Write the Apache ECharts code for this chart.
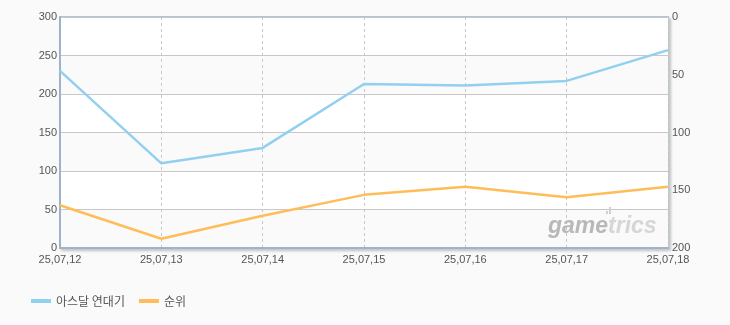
<!DOCTYPE html>
<html><head><meta charset="utf-8">
<script src="https://cdn.jsdelivr.net/npm/echarts@6/dist/echarts.min.js"></script>
<style>html,body{margin:0;padding:0;background:#fafafa;}#c{width:730px;height:325px;}</style>
</head><body><div id="c"></div>
<script>
const categories = ['25,07,12','25,07,13','25,07,14','25,07,15','25,07,16','25,07,17','25,07,18'];
const seriesNames = ['아스달 연대기','순위'];
const valueSeries = [230,110,130,213,211,217,257];
const rankSeries = [163,192,172,154,147,156,147];
const leftTicks = {min:0,max:300,interval:50};
const rightTicks = {min:0,max:200,interval:50};

const chart = echarts.init(document.getElementById('c'), null, {renderer:'canvas'});
const labelStyle = {color:'#555', fontSize:11, fontFamily:'Liberation Sans, Arial, sans-serif'};
chart.setOption({
  backgroundColor:'#fafafa',
  animation:false,
  grid:{left:60,right:62,top:17,bottom:77,show:true,backgroundColor:'#fff',borderColor:'#b2c4d8',borderWidth:2,
    shadowColor:'rgba(0,0,0,0.18)',shadowBlur:3,shadowOffsetX:2,shadowOffsetY:2},
  legend:{left:26,top:290,itemWidth:20,itemHeight:4,itemGap:14,icon:'rect',
    textStyle:{color:'#555',fontSize:12,fontFamily:'Noto Sans CJK KR, sans-serif'},
    data:seriesNames},
  xAxis:{type:'category',data:categories,boundaryGap:false,
    axisLine:{show:true,lineStyle:{color:'#9fb3c8',width:2}},axisTick:{show:false},
    axisLabel:Object.assign({margin:6},labelStyle),
    splitLine:{show:true,lineStyle:{color:'#c8c8c8',type:[3,3],width:1}}},
  yAxis:[
    {type:'value',min:leftTicks.min,max:leftTicks.max,interval:leftTicks.interval,
      axisLine:{show:true,lineStyle:{color:'#9fb3c8',width:2}},axisTick:{show:false},
      axisLabel:Object.assign({margin:3},labelStyle),
      splitLine:{show:true,lineStyle:{color:'#c8c8c8',width:1}},
      splitArea:{show:true,areaStyle:{color:['#fafafa','#ffffff']}}},
    {type:'value',inverse:true,min:rightTicks.min,max:rightTicks.max,interval:rightTicks.interval,position:'right',
      axisLine:{show:false},axisTick:{show:false},
      axisLabel:Object.assign({margin:4},labelStyle),
      splitLine:{show:false}}
  ],
  graphic:[
    {type:'text',left:548,top:215,z:1,
      style:{text:'{a|game}{b|trics}',rich:{
        a:{fill:'#b8b8b8',font:'italic bold 23px Liberation Sans, Arial, sans-serif'},
        b:{fill:'#d6d6d6',font:'italic bold 23px Liberation Sans, Arial, sans-serif'}}}},
    {type:'rect',left:606,top:211,z:1,shape:{width:2,height:3},style:{fill:'#d0d0d0'}},
    {type:'rect',left:609,top:207,z:1,shape:{width:2,height:7},style:{fill:'#d0d0d0'}}
  ],
  series:[
    {name:seriesNames[0],type:'line',data:valueSeries,yAxisIndex:0,showSymbol:false,symbol:'none',
      itemStyle:{color:'#92d0f0'},lineStyle:{color:'#92d0f0',width:2.5},z:3},
    {name:seriesNames[1],type:'line',data:rankSeries,yAxisIndex:1,showSymbol:false,symbol:'none',
      itemStyle:{color:'#ffbd5a'},lineStyle:{color:'#ffbd5a',width:2.5},z:3}
  ]
});
</script></body></html>
